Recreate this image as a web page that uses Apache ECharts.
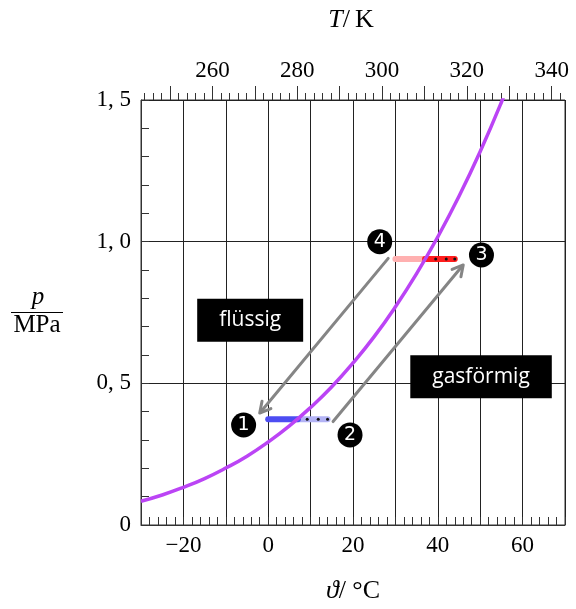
<!DOCTYPE html>
<html><head><meta charset="utf-8">
<script src="https://cdn.jsdelivr.net/npm/echarts@6/dist/echarts.min.js"></script>
<style>html,body{margin:0;padding:0;background:#fff}#c{width:576px;height:609px}</style>
</head><body><div id="c"></div>
<script>
// vapour-pressure curve
const curveTemps = [-30,-25,-20,-15,-10,-5,0,5,10,15,20,25,30,35,40,45,50,55,60];
const curvePressures = [0.084,0.106,0.133,0.164,0.201,0.243,0.293,0.350,0.415,0.488,0.572,0.665,0.770,0.887,1.017,1.160,1.318,1.492,1.682];
// isobars
const lowPressure = 0.373;
const highPressure = 0.939;
const blueLiquidTemps = [0, 7];
const blueGasTemps = [7, 14];
const blueDotTemps = [9.2, 11.8, 14];
const redLiquidTemps = [30, 37];
const redGasTemps = [37, 44];
const redDotTemps = [39.5, 42, 44];
// arrows
const arrowStartTemps = [15.3, 28.3];
const arrowStartPressures = [0.365, 0.941];
const arrowEndTemps = [46.0, -2.0];
const arrowEndPressures = [0.918, 0.395];
// state markers
const markerLabels = ['1','2','3','4'];
const markerTemps = [-5.8, 19.3, 50.3, 26.3];
const markerPressures = [0.353, 0.318, 0.953, 1.0];
// region labels
const regionLabels = ['flüssig','gasförmig'];
const regionTemps = [-4.25, 50.2];
const regionPressures = [0.723, 0.523];
// ticks
const bottomTickLabels = [-20,0,20,40,60];
const topTickLabels = [260,280,300,320,340];
const topMajorTicks = [250,260,270,280,290,300,310,320,330,340];
const topMinorTicks = [244,246,248,252,254,256,258,262,264,266,268,272,274,276,278,282,284,286,288,292,294,296,298,302,304,306,308,312,314,316,318,322,324,326,328,332,334,336,338,342];
const yTickValues = [0,0.5,1,1.5];
const yTickLabels = ['0','0, 5','1, 0','1, 5'];

const serif = '"Liberation Serif", "DejaVu Serif", serif';
const axisColor = '#333';
const gridColor = '#222';

const chart = echarts.init(document.getElementById('c'), null, {renderer:'canvas'});

function seg(ts, p){ return ts.map(t => [t, p]); }

const option = {
  animation: false,
  backgroundColor: '#fff',
  grid: {left:141, right:11, top:100, bottom:84, containLabel:false, outerBoundsMode:'none',
         show:true, borderColor:axisColor, borderWidth:1},
  xAxis: [
    {type:'value', position:'bottom', min:-30, max:70, interval:10,
     axisLine:{show:true, onZero:false, lineStyle:{color:axisColor, width:1}},
     axisTick:{show:true, inside:true, length:8, lineStyle:{color:axisColor}},
     minorTick:{show:true, splitNumber:5, length:8, lineStyle:{color:axisColor}},
     axisLabel:{customValues:bottomTickLabels, margin:9, fontFamily:serif, fontSize:23, color:'#000',
       formatter:v => String(v).replace('-', '\u2212')},
     splitLine:{show:true, lineStyle:{color:gridColor, width:1}}},
    {type:'value', position:'top', min:243.15, max:343.15,
     axisLine:{show:false, onZero:false},
     axisTick:{show:true, customValues:topMajorTicks, inside:false, length:14, lineStyle:{color:axisColor}},
     axisLabel:{show:true, customValues:topTickLabels, margin:18, fontFamily:serif, fontSize:23, color:'#000'},
     splitLine:{show:false}},
    {type:'value', position:'top', min:243.15, max:343.15,
     axisLine:{show:false, onZero:false},
     axisTick:{show:true, customValues:topMinorTicks, inside:false, length:7, lineStyle:{color:axisColor}},
     axisLabel:{show:false},
     splitLine:{show:false}}
  ],
  yAxis: [
    {type:'value', position:'left', min:0, max:1.5, interval:0.5,
     axisLine:{show:true, onZero:false, lineStyle:{color:axisColor}},
     axisTick:{show:true, inside:true, length:8, lineStyle:{color:axisColor}},
     minorTick:{show:true, splitNumber:5, length:8, lineStyle:{color:axisColor}},
     axisLabel:{margin:10, fontFamily:serif, fontSize:23, color:'#000',
       formatter:v => { const i = yTickValues.findIndex(x => Math.abs(x - v) < 1e-6); return i >= 0 ? yTickLabels[i] : ''; }},
     splitLine:{show:true, lineStyle:{color:gridColor, width:1}}}
  ],
  graphic: [
    {type:'text', x:351, y:20, style:{text:'{i|T}{n|/\u2009K}', align:'center', verticalAlign:'middle',
      rich:{i:{fontFamily:serif, fontStyle:'italic', fontSize:26, fill:'#000'}, n:{fontFamily:serif, fontSize:26, fill:'#000'}}}},
    {type:'text', x:353, y:591, style:{text:'{i|\u03d1}{n|/ \u00b0C}', align:'center', verticalAlign:'middle',
      rich:{i:{fontFamily:serif, fontStyle:'italic', fontSize:26, fill:'#000'}, n:{fontFamily:serif, fontSize:26, fill:'#000'}}}},
    {type:'text', x:38, y:297, style:{text:'p', align:'center', verticalAlign:'middle',
      font:'italic 25px "Liberation Serif"', fill:'#000'}},
    {type:'line', shape:{x1:11, y1:312.5, x2:63, y2:312.5}, style:{stroke:'#000', lineWidth:1}},
    {type:'text', x:37, y:325, style:{text:'MPa', align:'center', verticalAlign:'middle',
      font:'25px "Liberation Serif"', fill:'#000'}}
  ],
  series: [
    {type:'line', data:seg(blueGasTemps, lowPressure), symbol:'none', z:2,
     lineStyle:{color:'#b3b3f5', width:6, cap:'round'}},
    {type:'line', data:seg(blueLiquidTemps, lowPressure), symbol:'none', z:2,
     lineStyle:{color:'#4d4df2', width:6, cap:'round'}},
    {type:'line', data:seg(redLiquidTemps, highPressure), symbol:'none', z:2,
     lineStyle:{color:'#ffb0b0', width:6, cap:'round'}},
    {type:'line', data:seg(redGasTemps, highPressure), symbol:'none', z:2,
     lineStyle:{color:'#ff1c1c', width:6, cap:'round'}},
    {type:'scatter', data:seg(blueDotTemps, lowPressure).concat(seg(redDotTemps, highPressure)),
     symbolSize:3, itemStyle:{color:'#111', opacity:1}, z:3},
    {type:'line', data:curveTemps.map((t,i) => [t, curvePressures[i]]), symbol:'none', smooth:true, z:4,
     clip:true, lineStyle:{color:'#bb44f5', width:3.5}},
    {type:'custom', z:5, clip:false,
     encode:{x:[0,2], y:[1,3]},
     data: arrowStartTemps.map((t,i) => [t, arrowStartPressures[i], arrowEndTemps[i], arrowEndPressures[i]]),
     renderItem:(params, api) => {
       const a = api.coord([api.value(0), api.value(1)]);
       const b = api.coord([api.value(2), api.value(3)]);
       const ang = Math.atan2(b[1]-a[1], b[0]-a[0]);
       const L = 12, w = 0.5;
       const h1 = [b[0] - L*Math.cos(ang - w), b[1] - L*Math.sin(ang - w)];
       const h2 = [b[0] - L*Math.cos(ang + w), b[1] - L*Math.sin(ang + w)];
       const st = {stroke:'#858585', lineWidth:3, lineCap:'round', lineJoin:'round', fill:null};
       return {type:'group', children:[
         {type:'line', shape:{x1:a[0], y1:a[1], x2:b[0]-1.5*Math.cos(ang), y2:b[1]-1.5*Math.sin(ang)}, style:st},
         {type:'polyline', shape:{points:[h1, b, h2]}, style:st}
       ]};
     }},
    {type:'scatter', z:6, symbol:'circle', symbolSize:25, itemStyle:{color:'#000', opacity:1},
     data: markerTemps.map((t,i) => ({value:[t, markerPressures[i]], name:markerLabels[i]})),
     label:{show:true, position:'inside', formatter:'{b}', color:'#fff', fontSize:19,
       fontFamily:'"DejaVu Sans"', fontWeight:'normal'}},
    {type:'scatter', z:6, symbolSize:0, itemStyle:{color:'#000', opacity:1},
     data: regionTemps.map((t,i) => ({value:[t, regionPressures[i]], name:regionLabels[i]})),
     label:{show:true, position:'inside', formatter:'{b}', color:'#fff', fontSize:21, lineHeight:23,
       fontFamily:'"Open Sans"', backgroundColor:'#000', padding:[10,22,10,22]}}
  ]
};
chart.setOption(option);
</script>
</body></html>
